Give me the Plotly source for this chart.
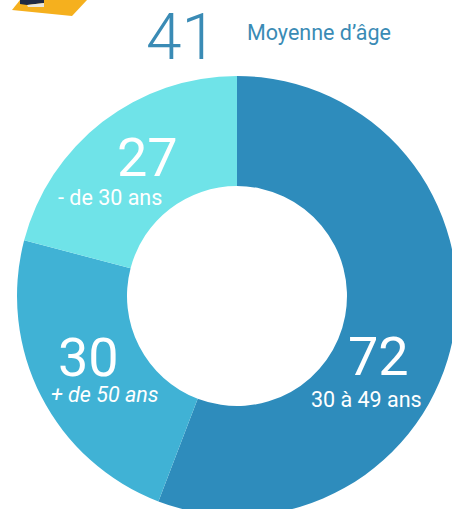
import plotly.graph_objects as go

labels = ["30 à 49 ans", "+ de 50 ans", "- de 30 ans"]
values = [72, 30, 27]
colors = ["#2E8CBC", "#40B2D5", "#6FE3E8"]

W, H = 470, 530
cx, cy, r = 237, 296, 220
fig = go.Figure(go.Pie(
    labels=labels, values=values, hole=0.5, sort=False, direction="clockwise",
    rotation=0, marker=dict(colors=colors, line=dict(width=0)), textinfo="none",
    hoverinfo="label+value", showlegend=False,
    domain=dict(x=[(cx-r)/W, (cx+r)/W], y=[1-(cy+r)/H, 1-(cy-r)/H]),
))

def txt(x, y, s, size, color="#FFFFFF", weight=400, italic=False):
    fig.add_annotation(x=x/W, y=1-y/H, xref="paper", yref="paper", text=s, showarrow=False,
                       xanchor="center", yanchor="middle",
                       font=dict(size=size, color=color, family="Roboto", weight=weight,
                                 style="italic" if italic else "normal"))

txt(147, 158, "27", 54)
txt(110, 198, "- de 30 ans", 21.5)
txt(88, 357, "30", 54)
txt(105, 395, "+ de 50 ans", 21.5, italic=True)
txt(378, 356, "72", 54)
txt(366, 399, "30 à 49 ans", 21.5)
txt(181, 38, "41", 64, color="#3A8BB5", weight=300)
txt(319, 33, "Moyenne d’âge", 21.5, color="#3A8BB5")

def poly(points, color):
    path = "M " + " L ".join(f"{x/W} {1-y/H}" for x, y in points) + " Z"
    fig.add_shape(type="path", xref="paper", yref="paper", path=path,
                  fillcolor=color, line=dict(width=0))

poly([(20, 0), (12, 10), (72, 16), (87, 0)], "#F5B01E")
poly([(20, 0), (44, 0), (44, 3), (27, 5), (20, 4)], "#1F2A44")
poly([(27, 5), (44, 3), (44, 7), (28, 7)], "#E8E8E0")

fig.update_layout(width=W, height=H, margin=dict(l=0, r=0, t=0, b=0),
                  paper_bgcolor="white", plot_bgcolor="white")
fig.write_html("out.html", config=dict(displayModeBar=False),
               post_script="document.documentElement.style.overflow='hidden';document.body.style.overflow='hidden';document.body.style.margin='0';")
